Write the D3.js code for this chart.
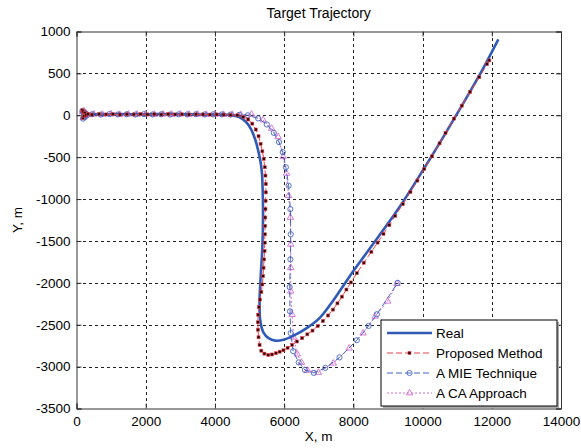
<!DOCTYPE html>
<html>
<head>
<meta charset="utf-8">
<script src="https://cdn.jsdelivr.net/npm/d3@7"></script>
<style>
  body { margin: 0; background: #fff; }
  svg text { font-family: "Liberation Sans", Arial, sans-serif; fill: #000; }
</style>
</head>
<body>
<svg id="chart" width="581" height="448"></svg>
<script>
// tick values
var xTicks = [0, 2000, 4000, 6000, 8000, 10000, 12000, 14000];
var yTicks = [1000, 500, 0, -500, -1000, -1500, -2000, -2500, -3000, -3500];

// series names for the legend
var seriesNames = ["Real", "Proposed Method", "A MIE Technique", "A CA Approach"];

// real trajectory, [x, y] in metres
var realPath = [[170,30],[190,-40],[205,55],[225,-15],[250,25],[300,5],[400,15],[700,10],[1200,14],
  [1800,12],[2400,14],[3000,12],[3600,10],[4200,8],[4500,0],[4700,-20],[4900,-80],[5050,-170],
  [5180,-310],[5260,-440],[5320,-560],[5360,-700],[5380,-900],[5390,-1200],[5370,-1580],[5320,-1940],
  [5290,-2220],[5310,-2450],[5400,-2590],[5550,-2660],[5740,-2690],[5980,-2680],[6300,-2625],
  [6650,-2540],[7000,-2430],[7350,-2250],[7700,-2040],[8000,-1860],[8670,-1480],[9360,-1080],
  [10050,-630],[10640,-230],[11200,160],[11700,520],[12190,905]];

// proposed method estimate
var proposedPath = [[165,60],[180,-30],[195,45],[215,-10],[240,30],[280,0],[330,15],[450,8],[650,14],
  [850,10],[1050,13],[1250,9],[1450,12],[1650,10],[1850,14],[2050,10],[2250,12],[2450,9],[2650,13],
  [2850,10],[3050,12],[3250,9],[3450,11],[3650,10],[3850,8],[4050,10],[4250,8],[4450,5],[4650,0],
  [4820,-20],[4960,-50],[5080,-100],[5180,-170],[5260,-250],[5320,-340],[5370,-430],[5410,-520],
  [5440,-620],[5460,-720],[5470,-820],[5470,-920],[5465,-1020],[5460,-1120],[5455,-1220],[5450,-1320],
  [5445,-1420],[5440,-1520],[5435,-1620],[5420,-1720],[5405,-1820],[5390,-1920],[5370,-2020],
  [5340,-2110],[5300,-2200],[5270,-2290],[5250,-2380],[5240,-2470],[5245,-2560],[5260,-2650],
  [5290,-2740],[5340,-2810],[5430,-2845],[5540,-2860],[5650,-2855],[5760,-2840],[5870,-2822],
  [5980,-2805],[6100,-2775],[6230,-2740],[6370,-2700],[6520,-2660],[6670,-2615],[6820,-2570],
  [6970,-2515],[7120,-2455],[7270,-2390],[7410,-2320],[7540,-2245],[7670,-2165],[7800,-2080],
  [7930,-1995],[8100,-1885],[8300,-1760],[8520,-1630],[8700,-1520],[8870,-1415],[9040,-1310],
  [9210,-1200],[9430,-1060],[9650,-915],[9850,-780],[10050,-640],[10270,-490],[10490,-335],
  [10663,-210],[10907,-40],[11132,115],[11376,280],[11639,455],[11863,610],[11930,655]];

// MIE technique estimate
var miePath = [[170,50],[190,-40],[210,30],[235,-20],[260,20],[300,0],[450,12],[700,8],[950,14],
  [1200,10],[1450,12],[1700,9],[1950,13],[2200,10],[2450,12],[2700,9],[2950,11],[3200,10],[3450,12],
  [3700,10],[3950,11],[4200,10],[4450,8],[4700,5],[4951,0],[5249,-37],[5500,-110],[5700,-210],
  [5850,-320],[5960,-440],[6050,-620],[6130,-840],[6180,-1120],[6190,-1420],[6180,-1720],[6160,-2050],
  [6170,-2340],[6190,-2600],[6260,-2815],[6420,-2950],[6600,-3040],[6860,-3075],[7190,-3015],
  [7600,-2890],[8100,-2685],[8440,-2515],[8680,-2375],[9280,-2000]];

// CA approach estimate
var caPath = [[175,40],[195,-30],[215,50],[240,-10],[270,25],[320,5],[500,12],[750,10],[1000,14],
  [1250,9],[1500,12],[1750,10],[2000,13],[2250,9],[2500,12],[2750,10],[3000,13],[3250,10],[3500,12],
  [3750,9],[4000,11],[4250,9],[4500,8],[4750,5],[5058,11],[5393,-57],[5636,-157],[5826,-257],
  [5970,-496],[6068,-694],[6128,-960],[6180,-1220],[6190,-1540],[6190,-1820],[6190,-2100],
  [6230,-2380],[6270,-2650],[6380,-2850],[6500,-2950],[6680,-3045],[6990,-3070],[7420,-2960],
  [7880,-2780],[8280,-2600],[8630,-2400],[8990,-2220],[9260,-2010]];

var width = 581, height = 448;
var plotLeft = 76.5, plotRight = 561, plotTop = 31.5, plotBottom = 408.5;

var svg = d3.select("#chart");
svg.append("rect").attr("width", width).attr("height", height).attr("fill", "#fff");

var x = d3.scaleLinear().domain([0, 14000]).range([plotLeft, plotRight]);
var y = d3.scaleLinear().domain([-3500, 1000]).range([plotBottom, plotTop]);

// dotted grid
var grid = svg.append("g").attr("stroke", "#222").attr("stroke-width", 1)
    .attr("stroke-dasharray", "3,3").attr("shape-rendering", "crispEdges");
xTicks.slice(1, -1).forEach(function(t) {
    grid.append("line").attr("x1", Math.round(x(t)) + 0.5).attr("x2", Math.round(x(t)) + 0.5)
        .attr("y1", plotTop).attr("y2", plotBottom);
});
yTicks.slice(1, -1).forEach(function(t) {
    grid.append("line").attr("y1", Math.round(y(t)) + 0.5).attr("y2", Math.round(y(t)) + 0.5)
        .attr("x1", plotLeft).attr("x2", plotRight);
});

// axes with inward ticks
var fmt = function(d) { return String(d); };
svg.append("g").attr("transform", "translate(0," + plotBottom + ")")
    .call(d3.axisBottom(x).tickValues(xTicks).tickSize(-5).tickPadding(8).tickFormat(fmt));
svg.append("g").attr("transform", "translate(" + plotLeft + ",0)")
    .call(d3.axisLeft(y).tickValues(yTicks).tickSize(-5).tickPadding(6).tickFormat(fmt));
svg.append("g").attr("transform", "translate(0," + plotTop + ")")
    .call(d3.axisTop(x).tickValues(xTicks).tickSize(-5).tickFormat(""));
svg.append("g").attr("transform", "translate(" + plotRight + ",0)")
    .call(d3.axisRight(y).tickValues(yTicks).tickSize(-5).tickFormat(""));
svg.selectAll(".domain").attr("stroke", "#333");
svg.selectAll(".tick line").attr("stroke", "#333");
svg.selectAll(".tick text").attr("font-size", 13.5).attr("fill", "#000")
    .style("font-family", "Liberation Sans, Arial, sans-serif");

// clip
svg.append("clipPath").attr("id", "plotClip").append("rect")
    .attr("x", plotLeft).attr("y", plotTop).attr("width", plotRight - plotLeft).attr("height", plotBottom - plotTop);
var plot = svg.append("g").attr("clip-path", "url(#plotClip)");

var line = d3.line().x(function(d) { return x(d[0]); }).y(function(d) { return y(d[1]); });
var smooth = d3.line().x(function(d) { return x(d[0]); }).y(function(d) { return y(d[1]); })
    .curve(d3.curveCatmullRom);

var colReal = "#2f5ab8", colProp = "#e8434b", colMie = "#4166c0", colCa = "#d36ad3";

// CA approach
plot.append("path").datum(caPath).attr("d", line).attr("fill", "none")
    .attr("stroke", colCa).attr("stroke-width", 1).attr("stroke-dasharray", "2,2");
var tri = d3.symbol().type(d3.symbolTriangle).size(18);
plot.selectAll(".ca").data(caPath).enter().append("path").attr("class", "ca")
    .attr("transform", function(d) { return "translate(" + x(d[0]) + "," + y(d[1]) + ")"; })
    .attr("d", tri).attr("fill", "none").attr("stroke", colCa).attr("stroke-width", 0.9);

// MIE technique
plot.append("path").datum(miePath).attr("d", line).attr("fill", "none")
    .attr("stroke", colMie).attr("stroke-width", 1).attr("stroke-dasharray", "6,3");
plot.selectAll(".mie").data(miePath).enter().append("circle").attr("class", "mie")
    .attr("cx", function(d) { return x(d[0]); }).attr("cy", function(d) { return y(d[1]); })
    .attr("r", 2.6).attr("fill", "none").attr("stroke", colMie).attr("stroke-width", 0.9);

// real
plot.append("path").datum(realPath).attr("d", smooth).attr("fill", "none")
    .attr("stroke", colReal).attr("stroke-width", 2.6).attr("stroke-linejoin", "round");

// proposed
plot.append("path").datum(proposedPath).attr("d", line).attr("fill", "none")
    .attr("stroke", colProp).attr("stroke-width", 1).attr("stroke-dasharray", "6,3");
plot.selectAll(".prop").data(proposedPath).enter().append("rect").attr("class", "prop")
    .attr("x", function(d) { return x(d[0]) - 1.5; }).attr("y", function(d) { return y(d[1]) - 1.5; })
    .attr("width", 3).attr("height", 3).attr("fill", "#2a0000").attr("stroke", colProp)
    .attr("stroke-width", 0.6);

// title and labels
svg.append("text").attr("x", (plotLeft + plotRight) / 2).attr("y", 18).attr("text-anchor", "middle")
    .attr("font-size", 14).text("Target Trajectory");
svg.append("text").attr("x", (plotLeft + plotRight) / 2).attr("y", 441).attr("text-anchor", "middle")
    .attr("font-size", 13.5).text("X, m");
svg.append("text").attr("transform", "translate(22," + (plotTop + plotBottom) / 2 + ") rotate(-90)")
    .attr("text-anchor", "middle").attr("font-size", 13.5).text("Y, m");

// legend with a soft shadow
var lg = svg.append("g");
lg.append("rect").attr("x", 383).attr("y", 322).attr("width", 176).attr("height", 86)
    .attr("fill", "#aaa");
lg.append("rect").attr("x", 381).attr("y", 320).attr("width", 176).attr("height", 86)
    .attr("fill", "#fff").attr("stroke", "#000").attr("stroke-width", 1);
var rowY = [333, 353, 373, 393];
var styles = [
    {c: colReal, w: 2.6, dash: null},
    {c: colProp, w: 1, dash: "6,3"},
    {c: colMie, w: 1, dash: "6,3"},
    {c: colCa, w: 1, dash: "2,2"}
];
seriesNames.forEach(function(name, i) {
    var s = styles[i];
    var ln = lg.append("line").attr("x1", 387).attr("x2", 432).attr("y1", rowY[i]).attr("y2", rowY[i])
        .attr("stroke", s.c).attr("stroke-width", s.w);
    if (s.dash) ln.attr("stroke-dasharray", s.dash);
    lg.append("text").attr("x", 436).attr("y", rowY[i] + 5).attr("font-size", 13.5).text(name);
});
lg.append("rect").attr("x", 408).attr("y", rowY[1] - 1.5).attr("width", 3).attr("height", 3)
    .attr("fill", "#2a0000").attr("stroke", colProp).attr("stroke-width", 0.6);
lg.append("circle").attr("cx", 409.5).attr("cy", rowY[2]).attr("r", 2.6)
    .attr("fill", "none").attr("stroke", colMie).attr("stroke-width", 0.9);
lg.append("path").attr("transform", "translate(409.5," + rowY[3] + ")").attr("d", tri)
    .attr("fill", "none").attr("stroke", colCa).attr("stroke-width", 0.9);
</script>
</body>
</html>
